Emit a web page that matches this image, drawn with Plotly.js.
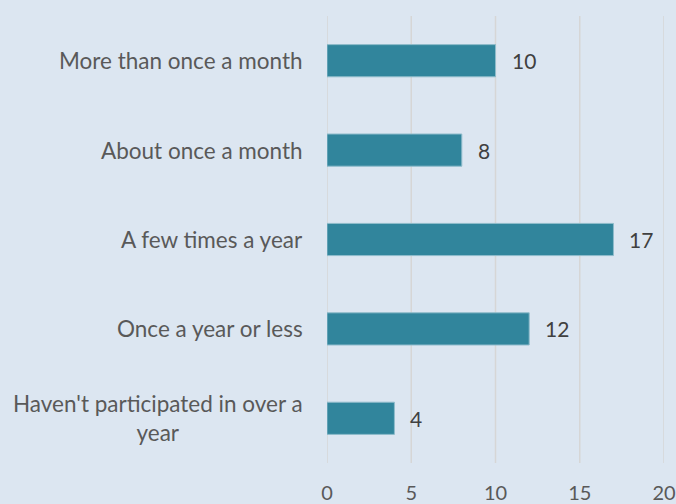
<!DOCTYPE html>
<html>
<head>
<meta charset="utf-8">
<script src="https://cdn.plot.ly/plotly-3.0.1.min.js"></script>
<style>
  html, body { margin: 0; padding: 0; background: #dce6f1; }
  #chart { width: 676px; height: 504px; }
</style>
</head>
<body>
<div id="chart"></div>
<script>
const categories = [
  "More than once a month",
  "About once a month",
  "A few times a year",
  "Once a year or less",
  "Haven't participated in over a<br>year"
];
const values = [10, 8, 17, 12, 4];
const xTicks = [0, 5, 10, 15, 20];

const FONT = "Lato, 'Open Sans', sans-serif";

const trace = {
  type: 'bar',
  orientation: 'h',
  x: values,
  y: categories,
  marker: { color: '#31859c', line: { color: '#8fbccb', width: 1 } },
  hoverinfo: 'none'
};

const annotations = [];
categories.forEach((c, i) => {
  annotations.push({
    xref: 'paper', yref: 'y', x: 0, y: c,
    text: c, showarrow: false, xanchor: 'right', yanchor: 'middle',
    align: 'center', xshift: -22,
    font: { family: FONT, size: 22.5, color: '#595959' }
  });
  annotations.push({
    xref: 'x', yref: 'y', x: values[i], y: c,
    text: String(values[i]), showarrow: false, xanchor: 'left', yanchor: 'middle',
    xshift: 14,
    font: { family: FONT, size: 21, color: '#404040' }
  });
});

const shapes = xTicks.map(t => ({
  type: 'line', layer: 'below',
  xref: 'x', yref: 'paper', x0: t, x1: t, y0: 0, y1: 1,
  line: { color: '#d6d6d6', width: 1.5 }
}));

const layout = {
  width: 676, height: 504,
  paper_bgcolor: '#dce6f1',
  plot_bgcolor: '#dce6f1',
  margin: { l: 327, r: 12, t: 16, b: 41 },
  bargap: 0.64,
  showlegend: false,
  font: { family: FONT, color: '#595959' },
  xaxis: {
    range: [0, 20],
    tickvals: xTicks,
    ticktext: xTicks.map(String),
    showgrid: false,
    zeroline: false,
    showline: false,
    ticks: '',
    ticklabelstandoff: 16,
    tickfont: { family: FONT, size: 20, color: '#595959' }
  },
  yaxis: {
    autorange: 'reversed',
    showticklabels: false,
    showgrid: false,
    zeroline: false,
    showline: false,
    ticks: ''
  },
  shapes: shapes,
  annotations: annotations
};

Plotly.newPlot('chart', [trace], layout, { displayModeBar: false, staticPlot: true });
</script>
</body>
</html>
